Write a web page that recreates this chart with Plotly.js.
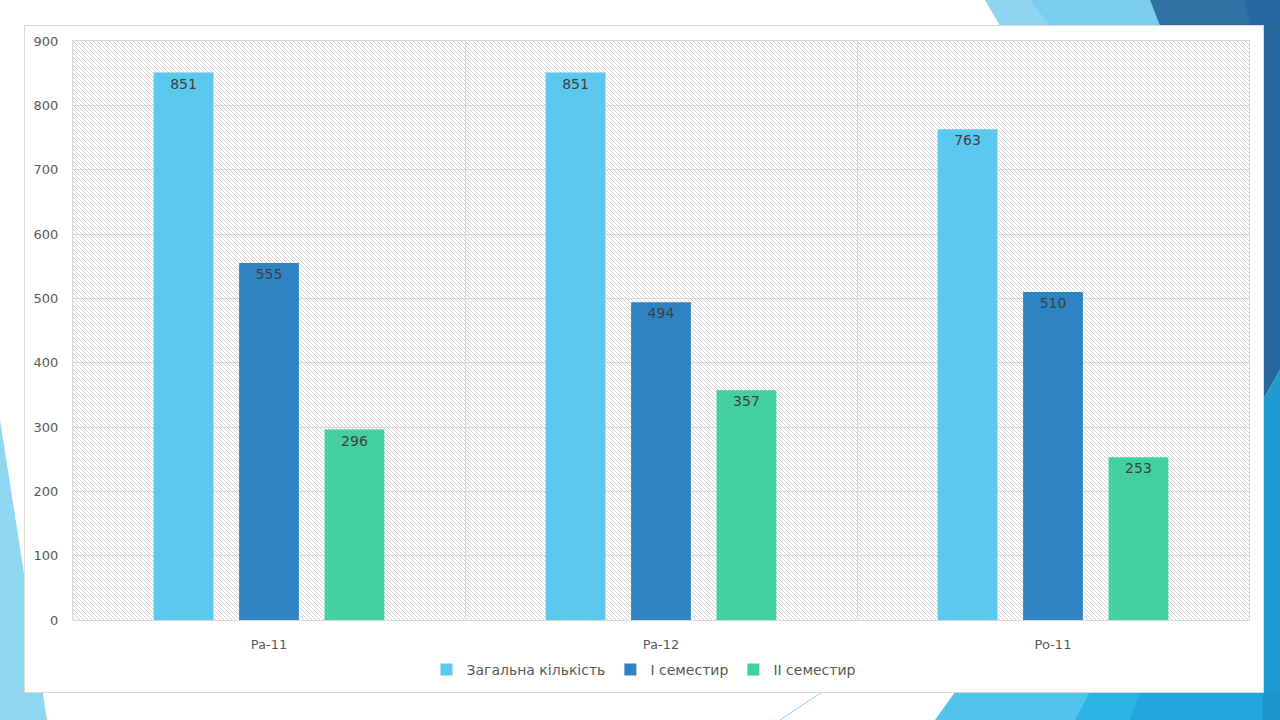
<!DOCTYPE html>
<html>
<head>
<meta charset="utf-8">
<script src="https://cdn.plot.ly/plotly-3.0.1.min.js"></script>
<style>
  html, body { margin:0; padding:0; width:1280px; height:720px; overflow:hidden; background:#ffffff; }
  #deco { position:absolute; left:0; top:0; width:1280px; height:720px; }
  #chart { position:absolute; left:25px; top:26px; width:1238px; height:666px; outline:1px solid #d9d9d9; background:#fff; }
</style>
</head>
<body>
<svg id="deco" width="1280" height="720" xmlns="http://www.w3.org/2000/svg">
  <polygon points="985,0 1150,0 1160,26 1000,26" fill="#8dd5f1"/>
  <polygon points="1030,0 1150,0 1160,26 1050,26" fill="#7acdee"/>
  <polygon points="1150,0 1280,0 1280,30 1160,26" fill="#2f72a3"/>
  <polygon points="1245,0 1280,0 1280,40 1250,26" fill="#2868a0"/>
  <polygon points="1263,26 1280,26 1280,370 1263,400" fill="#26679d"/>
  <polygon points="1263,400 1280,370 1280,720 1263,720" fill="#1e9bd0"/>
  <polygon points="955,692 1263,692 1263,720 935,720" fill="#52c3ea"/>
  <polygon points="1090,692 1263,692 1263,720 1075,720" fill="#2bb4e5"/>
  <polygon points="1140,692 1263,692 1263,720 1130,720" fill="#22a6dc"/>
  <polygon points="1263,692 1280,692 1280,720 1263,720" fill="#1b95cc"/>
  <line x1="780" y1="720" x2="822" y2="692" stroke="#8fd3ef" stroke-width="1"/>
  <polygon points="0,420 47,720 0,720" fill="#8ed6f2"/>
</svg>
<div id="chart"></div>
<script>
const categories = ["Pa-11", "Pa-12", "Po-11"];
const seriesNames = ["Загальна кількість", "I семестир", "II семестир"];
const totalValues = [851, 851, 763];
const sem1Values = [555, 494, 510];
const sem2Values = [296, 357, 253];
const yTicks = [0, 100, 200, 300, 400, 500, 600, 700, 800, 900];

const colors = ["#5bc9ee", "#2e83c3", "#42d0a0"];
const seriesValues = [totalValues, sem1Values, sem2Values];
const fontFamily = "DejaVu Sans, Verdana, sans-serif";

const traces = seriesValues.map((vals, i) => ({
  type: "bar",
  name: seriesNames[i],
  x: categories,
  y: vals,
  marker: { color: colors[i], line: { width: 0 } },
  text: vals.map(String),
  textposition: "inside",
  insidetextanchor: "end",
  textangle: 0,
  constraintext: "none",
  textfont: { family: fontFamily, size: 14, color: "#404040" },
  hoverinfo: "none"
}));

const hatchSvg =
  '<svg xmlns="http://www.w3.org/2000/svg" width="1176" height="579" preserveAspectRatio="none">' +
  '<defs><pattern id="h" width="4" height="4" patternUnits="userSpaceOnUse">' +
  '<path d="M-1,-1 L5,5 M3,-1 L5,1 M-1,3 L1,5" stroke="#d2d2d2" stroke-width="1"/>' +
  '</pattern></defs><rect width="1176" height="579" fill="#ffffff"/><rect width="1176" height="579" fill="url(#h)"/></svg>';

const layout = {
  width: 1238,
  height: 666,
  margin: { l: 48, r: 14, t: 15, b: 72 },
  paper_bgcolor: "#ffffff",
  plot_bgcolor: "#ffffff",
  barmode: "group",
  bargap: 0.346,
  bargroupgap: 0.3,
  showlegend: true,
  legend: {
    orientation: "h",
    xref: "container", yref: "container",
    x: 0.5, xanchor: "center",
    y: 0.033, yanchor: "middle",
    font: { family: fontFamily, size: 14, color: "#595959" },
    itemwidth: 30,
    traceorder: "normal"
  },
  xaxis: {
    type: "category",
    tickson: "boundaries",
    showgrid: true,
    gridcolor: "#d9d9d9",
    showline: true,
    mirror: true,
    linecolor: "#d9d9d9",
    linewidth: 1,
    ticks: "",
    ticklabelstandoff: 12,
    tickfont: { family: fontFamily, size: 13, color: "#595959" },
    automargin: false,
    fixedrange: true
  },
  yaxis: {
    range: [0, 900],
    tickvals: yTicks,
    ticktext: yTicks.map(String),
    showgrid: true,
    gridcolor: "#d9d9d9",
    zeroline: false,
    showline: true,
    mirror: true,
    linecolor: "#d9d9d9",
    linewidth: 1,
    ticks: "",
    ticklabelstandoff: 11,
    tickfont: { family: fontFamily, size: 13, color: "#595959" },
    automargin: false,
    fixedrange: true
  },
  images: [{
    source: "data:image/svg+xml;charset=utf-8," + encodeURIComponent(hatchSvg),
    xref: "paper", yref: "paper",
    x: 0, y: 1, sizex: 1, sizey: 1,
    xanchor: "left", yanchor: "top",
    sizing: "stretch",
    layer: "below"
  }]
};

Plotly.newPlot("chart", traces, layout, { displayModeBar: false, staticPlot: true });
</script>
</body>
</html>
